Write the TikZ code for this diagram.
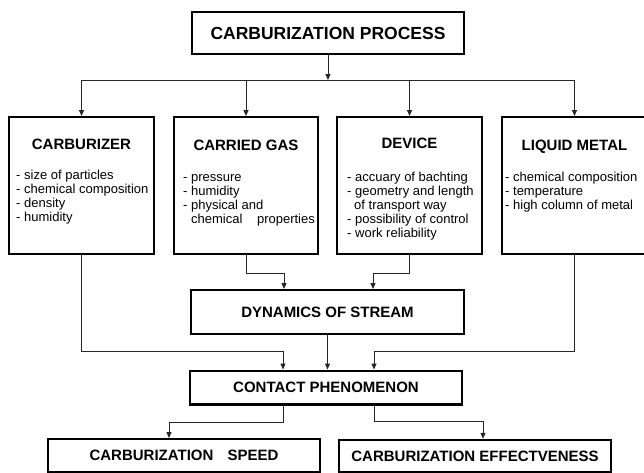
\documentclass[tikz,border=0pt]{standalone}
\usepackage{fontspec}
\setmainfont{Liberation Sans}
\usetikzlibrary{arrows.meta}
\begin{document}
\begin{tikzpicture}[x=1pt,y=-1pt,
  box/.style={draw=black, line width=2.4pt, inner sep=0pt, font=\fontsize{15}{18}\selectfont\bfseries},
  title/.style={anchor=base, inner sep=0pt, font=\fontsize{15}{18}\selectfont\bfseries},
  body/.style={anchor=base west, inner sep=0pt, font=\fontsize{13}{14}\selectfont},
  conn/.style={draw=black!85, line width=1pt},
  arr/.style={conn, -{Triangle[length=6pt,width=5pt]}}
]
\clip (0,0) rectangle (644,472);
\fill[white] (0,0) rectangle (644,472);

% top box
\node[box, minimum width=271.6pt, minimum height=41.6pt, font=\fontsize{17.5}{20}\selectfont\bfseries] (top) at (328,33) {CARBURIZATION PROCESS};

% row boxes
\node[box, minimum width=144.6pt, minimum height=136.6pt] (carb) at (81.5,185.5) {};
\node[box, minimum width=143.6pt, minimum height=136.6pt] (gas) at (246,185.5) {};
\node[box, minimum width=144.6pt, minimum height=136.6pt] (dev) at (409.5,185.5) {};
\node[box, minimum width=144.6pt, minimum height=136.6pt] (liq) at (574.5,185.5) {};

\node[title] (carbT) at (81.5,149.5) {CARBURIZER};
\node[title] (gasT) at (246,150.5) {CARRIED GAS};
\node[title] (devT) at (409.5,148.5) {DEVICE};
\node[title] (liqT) at (574.5,150.5) {LIQUID METAL};

\node[body] (carbB) at (16,179.5) {\begin{tabular}[t]{@{}l@{}}
- size of particles\\
- chemical composition\\
- density\\
- humidity
\end{tabular}};
\node[body] (gasB) at (183,181) {\begin{tabular}[t]{@{}l@{}}
- pressure\\
- humidity\\
- physical and\\
\hphantom{- }chemical\hspace{11pt} properties
\end{tabular}};
\node[body] (devB) at (347,181) {\begin{tabular}[t]{@{}l@{}}
- accuary of bachting\\
- geometry and length\\
\hspace{7pt}of transport way\\
- possibility of control\\
- work reliability
\end{tabular}};
\node[body] (liqB) at (505,181) {\begin{tabular}[t]{@{}l@{}}
- chemical composition\\
- temperature\\
- high column of metal
\end{tabular}};

% middle and bottom boxes
\node[box, minimum width=272.6pt, minimum height=43.6pt] (dyn) at (327.5,312) {DYNAMICS OF STREAM};
\node[box, minimum width=271.6pt, minimum height=33.6pt] (con) at (326,387.5) {CONTACT PHENOMENON};
\node[box, minimum width=271.6pt, minimum height=32.6pt] (spd) at (184,455.5) {CARBURIZATION\hspace{10pt} SPEED};
\node[box, minimum width=271.6pt, minimum height=32pt] (eff) at (475,456) {CARBURIZATION EFFECTVENESS};

% junction coordinates
\coordinate (hub) at (328,80);
\coordinate (gd) at (284,273);
\coordinate (dd) at (373,273);
\coordinate (cl) at (283,351);
\coordinate (cr) at (374,351);
\coordinate (sl) at (283,422);
\coordinate (sd) at (169,422);
\coordinate (er) at (374,421);
\coordinate (ed) at (483,421);

% connectors
\draw[arr] (top.south) -- (hub);
\draw[conn] (carb.north |- hub) -- (liq.north |- hub);
\draw[arr] (carb.north |- hub) -- (carb.north);
\draw[arr] (gas.north |- hub) -- (gas.north);
\draw[arr] (dev.north |- hub) -- (dev.north);
\draw[arr] (liq.north |- hub) -- (liq.north);

\draw[arr] (gas.south) |- (gd) -- (gd |- dyn.north);
\draw[arr] (dev.south) |- (dd) -- (dd |- dyn.north);
\draw[arr] (dyn.south) -- (dyn.south |- con.north);
\draw[arr] (carb.south) |- (cl) -- (cl |- con.north);
\draw[arr] (liq.south) |- (cr) -- (cr |- con.north);
\draw[arr] (sl |- con.south) -- (sl) -- (sd) -- (sd |- spd.north);
\draw[arr] (er |- con.south) -- (er) -- (ed) -- (ed |- eff.north);
\end{tikzpicture}
\end{document}
